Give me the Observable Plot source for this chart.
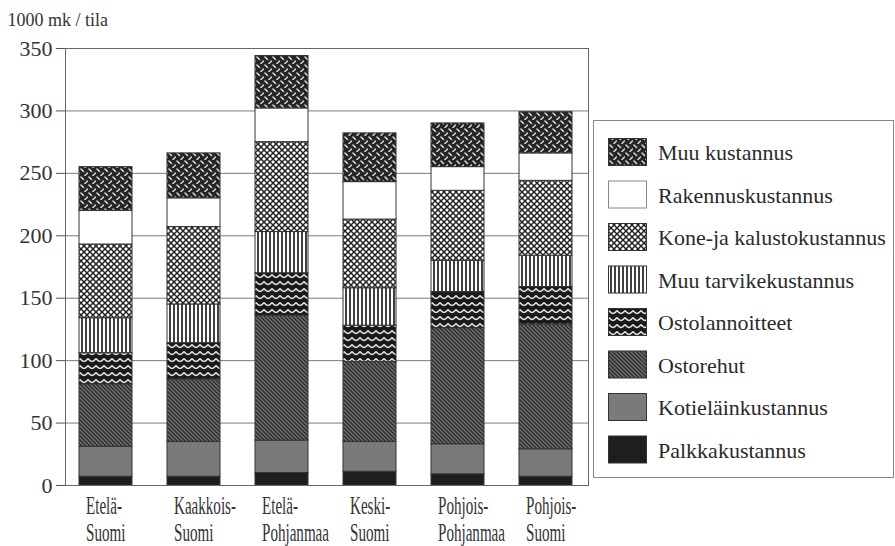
<!DOCTYPE html>
<html>
<head>
<meta charset="utf-8">
<script src="https://cdn.jsdelivr.net/npm/d3@7"></script>
<script src="https://cdn.jsdelivr.net/npm/@observablehq/plot@0.6"></script>
<style>
  html, body { margin: 0; padding: 0; background: #fff; }
  #wrap { position: relative; width: 895px; height: 546px; overflow: hidden; }
  #legend { position: absolute; left: 593px; top: 120px; }
</style>
</head>
<body>
<div id="wrap"></div>
<script>
// ---- data ----
const regions = ["Etelä-\nSuomi", "Kaakkois-\nSuomi", "Etelä-\nPohjanmaa", "Keski-\nSuomi", "Pohjois-\nPohjanmaa", "Pohjois-\nSuomi"];
const series = ["Palkkakustannus", "Kotieläinkustannus", "Ostorehut", "Ostolannoitteet", "Muu tarvikekustannus", "Kone-ja kalustokustannus", "Rakennuskustannus", "Muu kustannus"];
const palkka          = [7, 7, 10, 11, 9, 7];
const kotielain       = [24, 28, 26, 24, 24, 22];
const ostorehut       = [50, 50, 100, 64, 93, 100];
const ostolannoitteet = [25, 29, 34, 29, 29, 30];
const muuTarvike      = [28, 31, 33, 30, 25, 25];
const kone            = [59, 62, 72, 55, 56, 60];
const rakennus        = [27, 23, 27, 30, 19, 22];
const muuKustannus    = [35, 36, 42, 39, 35, 33];
const yTicks = [0, 50, 100, 150, 200, 250, 300, 350];
const yLabel = "1000 mk / tila";

const seriesValues = [palkka, kotielain, ostorehut, ostolannoitteet, muuTarvike, kone, rakennus, muuKustannus];
const fills = ["#1e1e1e", "#7a7a7a", "url(#pat-rehu)", "url(#pat-lann)", "url(#pat-tarv)", "url(#pat-kone)", "#ffffff", "url(#pat-muu)"];

const rows = [];
series.forEach((s, i) => regions.forEach((r, j) => rows.push({region: r, cost: s, value: seriesValues[i][j]})));

// ---- patterns ----
const wrap = d3.select("#wrap");
const defsSvg = wrap.append("svg").attr("width", 0).attr("height", 0).style("position", "absolute");
const defs = defsSvg.append("defs");
function pat(id, w, h) {
  return defs.append("pattern").attr("id", id).attr("patternUnits", "userSpaceOnUse").attr("width", w).attr("height", h);
}
{ // Muu kustannus: dark with light dashes
  const p = pat("pat-muu", 8, 8);
  p.append("rect").attr("width", 8).attr("height", 8).attr("fill", "#262626");
  p.append("path").attr("d", "M1,1 L3.5,3.5 M5,7.5 L7.5,5")
    .attr("stroke", "#d9d9d9").attr("stroke-width", 1.5).attr("stroke-linecap", "round").attr("fill", "none");
}
{ // Kone: diagonal crosshatch
  const p = pat("pat-kone", 6, 6);
  p.append("rect").attr("width", 6).attr("height", 6).attr("fill", "#fff");
  p.append("path").attr("d", "M0,0 L6,6 M6,0 L0,6").attr("stroke", "#222").attr("stroke-width", 1.5).attr("fill", "none");
}
{ // Muu tarvike: vertical lines
  const p = pat("pat-tarv", 4, 4);
  p.append("rect").attr("width", 4).attr("height", 4).attr("fill", "#fff");
  p.append("rect").attr("x", 1.2).attr("width", 1.6).attr("height", 4).attr("fill", "#111");
}
{ // Ostolannoitteet: dark with white garlands
  const p = pat("pat-lann", 8, 7);
  p.append("rect").attr("width", 8).attr("height", 7).attr("fill", "#1a1a1a");
  p.append("path").attr("d", "M0,1.5 Q4,7.5 8,1.5").attr("stroke", "#e6e6e6").attr("stroke-width", 1.5).attr("fill", "none");
}
{ // Ostorehut: gray with dark "\" stripes
  const p = pat("pat-rehu", 4, 4);
  p.append("rect").attr("width", 4).attr("height", 4).attr("fill", "#6e6e6e");
  p.append("path").attr("d", "M-1,-1 L5,5 M-1,3 L1,5 M3,-1 L5,1").attr("stroke", "#2a2a2a").attr("stroke-width", 1.3).attr("fill", "none");
}

// ---- chart ----
const chart = Plot.plot({
  width: 895,
  height: 546,
  marginLeft: 65,
  marginRight: 307,
  marginTop: 48,
  marginBottom: 61,
  style: {fontFamily: "Liberation Serif", color: "#333", background: "transparent"},
  x: {domain: regions, range: [60.5, 589.5], paddingInner: 0.4, paddingOuter: 0.2},
  y: {domain: [0, 350]},
  color: {domain: series, range: fills},
  marks: [
    Plot.gridY({ticks: yTicks, stroke: "#7a7a7a", strokeOpacity: 1}),
    Plot.barY(rows, {x: "region", y: "value", fill: "cost", stroke: "#333", strokeWidth: 1}),
    Plot.frame({stroke: "#666"}),
    Plot.axisY({ticks: yTicks, tickSize: 9, tickPadding: 4, fontSize: 22, label: null, stroke: "#555"}),
    Plot.axisX({tickSize: 0, tickPadding: 9, fontSize: 26, lineHeight: 1.04, textAnchor: "start", dx: -20, label: null}),
    Plot.text([yLabel], {text: d => d, frameAnchor: "top-left", textAnchor: "start", lineAnchor: "bottom", dx: -58, dy: -23, fontSize: 18})
  ]
});
wrap.node().appendChild(chart);

// condense the x tick labels
const xg = d3.select(chart).select('g[aria-label="x-axis tick label"]');
xg.selectAll("text").each(function() {
  const t = this.getAttribute("transform") || "";
  this.setAttribute("transform", t + " scale(0.58,1)");
});

// ---- legend ----
const legendOrder = series.map((s, i) => ({name: s, fill: fills[i]})).reverse();
const lg = wrap.append("svg").attr("id", "legend").attr("width", 302).attr("height", 360);
lg.append("rect").attr("x", 0.5).attr("y", 0.5).attr("width", 300).attr("height", 357)
  .attr("fill", "#fff").attr("stroke", "#888");
legendOrder.forEach((d, i) => {
  const y0 = 18 + i * 42.5;
  lg.append("rect").attr("x", 15.5).attr("y", y0 + 0.5).attr("width", 38).attr("height", 27)
    .attr("fill", d.fill).attr("stroke", d.name === "Rakennuskustannus" ? "#888" : "#333");
  lg.append("text").attr("x", 65).attr("y", y0 + 22).text(d.name)
    .style("font-family", "Liberation Serif").style("font-size", "22px").attr("fill", "#2a2a2a");
});
</script>
</body>
</html>
